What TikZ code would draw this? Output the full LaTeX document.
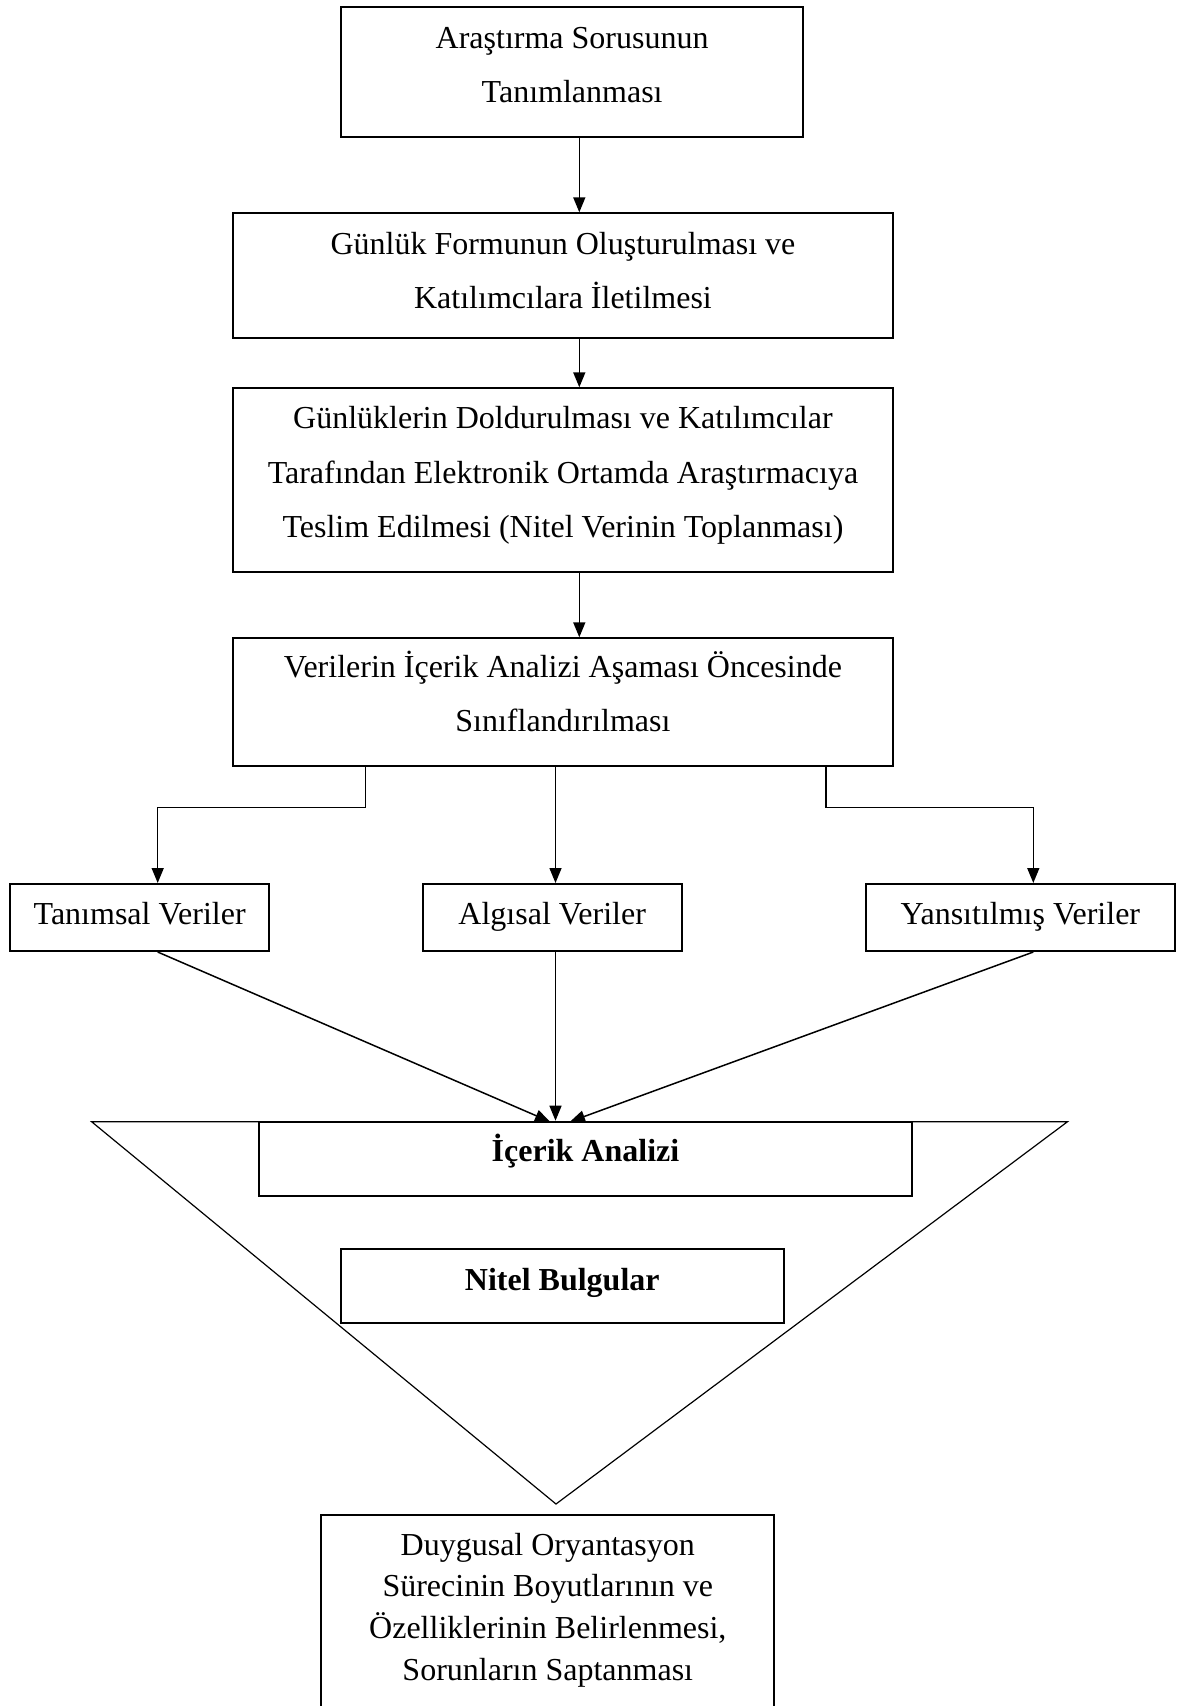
\documentclass[tikz,border=0pt]{standalone}
\usepackage{fontspec}
\setmainfont{Liberation Serif}
\usetikzlibrary{arrows.meta}
\begin{document}
\begin{tikzpicture}[x=0.5pt,y=-0.5pt,
  box/.style={draw, line width=1pt, inner sep=0pt, align=flush center, anchor=base,
    font=\fontsize{16}{27.2}\selectfont},
  boldbox/.style={box, font=\fontsize{16}{27.2}\selectfont\bfseries},
  arr/.style={line width=0.75pt, -{Triangle[length=7.5pt,width=6pt]}},
  funnel/.style={line width=0.6pt},
]
% page
\fill[white] (0,0) rectangle (1177,1706);
\useasboundingbox (0,0) rectangle (1177,1706);

% funnel behind the analysis boxes
\coordinate (fl) at (91.6,1121.7);
\coordinate (fr) at (1067.5,1121.7);
\coordinate (fa) at (556,1504);
\draw[funnel] (fl) -- (fr) -- (fa) -- cycle;

% main process boxes
\node[box, text width=231.15pt, text height=20.5pt, text depth=44.2pt] (b1) at (572.15,48.3)
  {Araştırma Sorusunun\\Tanımlanması};
\node[box, text width=330.45pt, text height=20.5pt, text depth=42pt] (b2) at (562.95,254.3)
  {Günlük Formunun Oluşturulması ve\\Katılımcılara İletilmesi};
\node[box, text width=330.45pt, text height=20.2pt, text depth=71.8pt] (b3) at (562.95,428.7)
  {Günlüklerin Doldurulması ve Katılımcılar\\Tarafından Elektronik Ortamda Araştırmacıya\\Teslim Edilmesi (Nitel Verinin Toplanması)};
\node[box, text width=330.45pt, text height=19.35pt, text depth=44.5pt] (b4) at (562.95,677)
  {Verilerin İçerik Analizi Aşaması Öncesinde\\Sınıflandırılması};

% data categories
\node[box, text width=129.65pt, text height=20.15pt, text depth=13.35pt] (s1) at (139.65,924.3) {Tanımsal Veriler};
\node[box, text width=129.5pt, text height=20.15pt, text depth=13.35pt] (s2) at (552.2,924.3) {Algısal Veriler};
\node[box, text width=154.65pt, text height=20.15pt, text depth=13.35pt] (s3) at (1020.35,924.3) {Yansıtılmış Veriler};

% analysis and findings
\node[boldbox, text width=326.5pt, text height=20pt, text depth=17.15pt] (ia) at (585.5,1161.7) {İçerik Analizi};
\node[boldbox, text width=221.55pt, text height=20.35pt, text depth=16.65pt] (nb) at (562.25,1290) {Nitel Bulgular};

% outcome box, open at the page bottom
\node[box, draw=none, font=\fontsize{16}{20.83}\selectfont, text width=225.5pt, text height=19.5pt, text depth=75.5pt] (fb) at (547.8,1555)
  {Duygusal Oryantasyon\\Sürecinin Boyutlarının ve\\Özelliklerinin Belirlenmesi,\\Sorunların Saptanması};
\draw[line width=1pt] (fb.south west) -- (fb.north west) -- (fb.north east) -- (fb.south east);

% connector positions
\coordinate (xa) at (579.3,0);
\coordinate (xl) at (365.7,0);
\coordinate (xc) at (555.5,0);
\coordinate (xr) at (825.8,0);
\coordinate (el) at (157.7,807.7);
\coordinate (er) at (1033.3,807.7);
\coordinate (tl) at (550,1121.7);
\coordinate (tr) at (570,1121.7);

% vertical flow
\draw[arr] (b1.south -| xa) -- (b2.north -| xa);
\draw[arr] (b2.south -| xa) -- (b3.north -| xa);
\draw[arr] (b3.south -| xa) -- (b4.north -| xa);

% branching into categories
\draw[arr] (b4.south -| xl) |- (el) -- (s1.north -| el);
\draw[arr] (b4.south -| xc) -- (s2.north -| xc);
\draw[arr] (b4.south -| xr) |- (er) -- (s3.north -| er);

% merging into content analysis
\draw[arr] (s1.south -| el) -- (tl);
\draw[arr] (s2.south -| xc) -- (ia.north -| xc);
\draw[arr] (s3.south -| er) -- (tr);
\end{tikzpicture}
\end{document}
